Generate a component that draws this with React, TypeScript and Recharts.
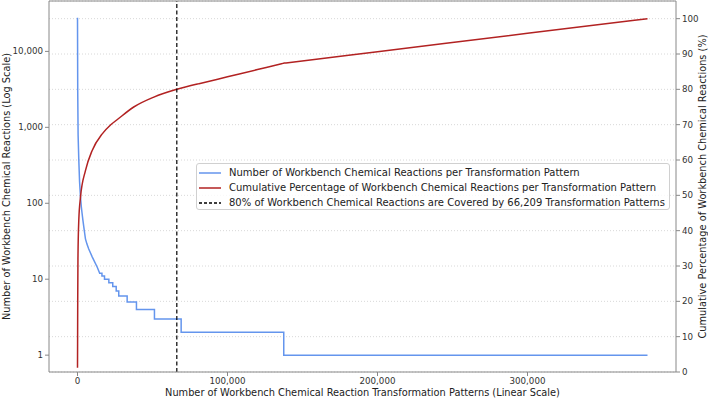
import React from 'react';
import {
  ComposedChart,
  Line,
  XAxis,
  YAxis,
  CartesianGrid,
  ReferenceLine,
} from 'recharts';

const FONT = '"DejaVu Sans", sans-serif';
const BLUE = '#6495ed';
const RED = '#b22222';

// smooth head of the per-pattern counts (pattern rank, reactions)
const headRanks = [0, 150, 400, 870, 1400, 2000, 2500, 3000, 3600, 4200, 4800, 5300, 6300, 7500, 9800, 13100, 14800];
const headCounts = [27700, 3000, 800, 370, 190, 121, 92, 75, 60, 49, 40, 34, 29, 25, 19.7, 14.5, 13];

// integer staircase once counts get small
const stepStarts = [14800, 16300, 18000, 20900, 23500, 25800, 27500, 33100, 39300, 51300, 69100, 137500];
const stepCounts = [12, 11, 10, 9, 8, 7, 6, 5, 4, 3, 2, 1];
const lastRank = 380000;

// cumulative percentage curve
const cumRanks = [0, 60, 150, 300, 870, 2000, 5300, 9800, 16500, 22000, 27000, 37500, 50900, 66209, 80000, 81000, 100000, 120000, 136000, 137000, 137500, 138000, 139000, 200000, 300000, 380000];
const cumPct = [1.2, 8, 20, 32, 43, 49.5, 57, 62.7, 67.4, 69.9, 71.6, 75, 77.8, 80, 81.5, 81.6, 83.55, 85.6, 87.25, 87.35, 87.4, 87.43, 87.48, 90.65, 95.84, 100];

const xTicks = [0, 100000, 200000, 300000];
const leftTicks = [1, 10, 100, 1000, 10000];
const rightTicks = [0, 10, 20, 30, 40, 50, 60, 70, 80, 90, 100];
const CUTOFF = 66209;

const legendItems = [
  { label: 'Number of Workbench Chemical Reactions per Transformation Pattern', color: BLUE, dash: '' },
  { label: 'Cumulative Percentage of Workbench Chemical Reactions per Transformation Pattern', color: RED, dash: '' },
  { label: '80% of Workbench Chemical Reactions are Covered by 66,209 Transformation Patterns', color: '#000', dash: '3 2' },
];

const countData: { x: number; count: number }[] = [];
headRanks.slice(0, -1).forEach((x, i) => countData.push({ x, count: headCounts[i] }));
stepStarts.forEach((start, i) => {
  const end = i + 1 < stepStarts.length ? stepStarts[i + 1] : lastRank;
  countData.push({ x: start, count: stepCounts[i] });
  countData.push({ x: end, count: stepCounts[i] });
});

const cumData = cumRanks.map((x, i) => ({ x, pct: cumPct[i] }));

const fmt = (v: number) => v.toLocaleString('en-US');
const tickStyle = { fill: '#333', fontSize: 8.7, fontFamily: FONT };
const titleStyle = { fill: '#222', fontSize: 9.8, fontFamily: FONT };

function LegendBox() {
  return (
    <div
      style={{
        position: 'absolute',
        left: 196,
        top: 163,
        width: 474,
        height: 47,
        boxSizing: 'border-box',
        border: '1px solid #d0d0d0',
        borderRadius: 3,
        background: 'rgba(255,255,255,0.8)',
        padding: '1px 0 0 2px',
        fontFamily: FONT,
        fontSize: 10,
        color: '#222',
      }}
    >
      {legendItems.map((it) => (
        <div key={it.label} style={{ display: 'flex', alignItems: 'center', height: 15 }}>
          <svg width={22} height={6} style={{ marginRight: 8, flexShrink: 0 }}>
            <line x1={0} y1={3} x2={22} y2={3} stroke={it.color} strokeWidth={1.5} strokeDasharray={it.dash} />
          </svg>
          <span style={{ whiteSpace: 'nowrap' }}>{it.label}</span>
        </div>
      ))}
    </div>
  );
}

export default function App() {
  return (
    <div style={{ position: 'absolute', left: 0, top: 0, width: 708, height: 398, background: '#fff' }}>
      <ComposedChart width={708} height={398} margin={{ top: 1, right: 0, bottom: 0, left: 0 }}>
        <CartesianGrid
          yAxisId="right"
          horizontal
          vertical={false}
          stroke="#d8d8d8"
          strokeDasharray="1 2"
        />
        <XAxis
          type="number"
          dataKey="x"
          domain={[-19000, 399000]}
          ticks={xTicks}
          allowDataOverflow
          tickFormatter={fmt}
          height={26}
          tickSize={4}
          tickMargin={2}
          stroke="#888"
          tick={tickStyle}
          label={{
            value: 'Number of Workbench Chemical Reaction Transformation Patterns (Linear Scale)',
            position: 'insideBottom',
            offset: 2,
            style: titleStyle,
          }}
        />
        <YAxis
          yAxisId="left"
          type="number"
          scale="log"
          domain={[0.6, 46100]}
          allowDataOverflow
          ticks={leftTicks}
          tickFormatter={fmt}
          width={49}
          tickSize={4}
          tickMargin={2}
          stroke="#888"
          tick={tickStyle}
          label={{
            value: 'Number of Workbench Chemical Reactions (Log Scale)',
            angle: -90,
            position: 'insideLeft',
            offset: 7,
            style: { ...titleStyle, textAnchor: 'middle' },
          }}
        />
        <YAxis
          yAxisId="right"
          orientation="right"
          type="number"
          domain={[0, 105]}
          allowDataOverflow
          ticks={rightTicks}
          width={32}
          tickSize={4}
          tickMargin={2}
          stroke="#888"
          tick={tickStyle}
          label={{
            value: 'Cumulative Percentage of Workbench Chemical Reactions (%)',
            angle: -90,
            position: 'insideRight',
            offset: 5,
            style: { ...titleStyle, textAnchor: 'middle' },
          }}
        />
        <ReferenceLine yAxisId="right" y={105} stroke="#888" strokeWidth={1} />
        <Line
          yAxisId="left"
          data={countData}
          dataKey="count"
          type="linear"
          stroke={BLUE}
          strokeWidth={1.5}
          dot={false}
          isAnimationActive={false}
        />
        <Line
          yAxisId="right"
          data={cumData}
          dataKey="pct"
          type="monotone"
          stroke={RED}
          strokeWidth={1.5}
          dot={false}
          isAnimationActive={false}
        />
        <ReferenceLine yAxisId="left" x={CUTOFF} stroke="#000" strokeWidth={1.2} strokeDasharray="4 2.5" />
      </ComposedChart>
      <LegendBox />
    </div>
  );
}
